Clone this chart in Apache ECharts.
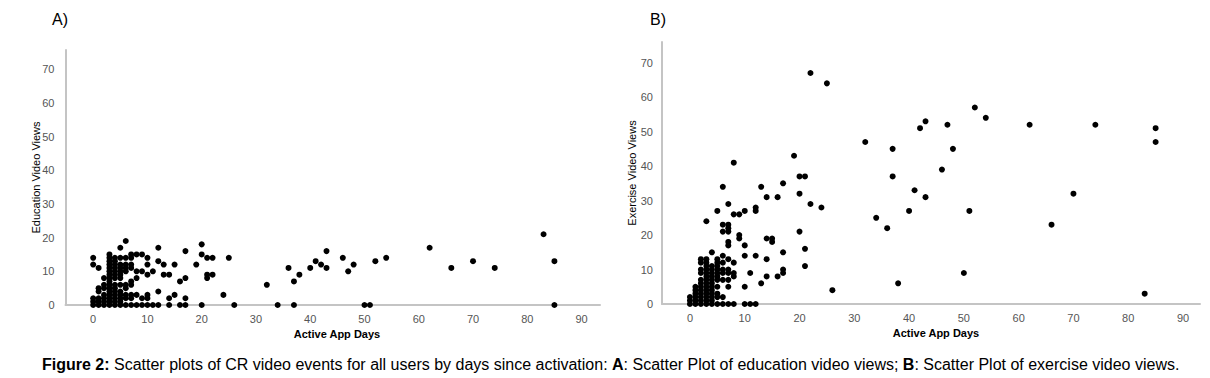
<!DOCTYPE html>
<html>
<head>
<meta charset="utf-8">
<script src="https://cdn.jsdelivr.net/npm/echarts@6/dist/echarts.min.js"></script>
<style>
html,body{margin:0;padding:0;background:#fff;}
#chart{width:1210px;height:378px;}
</style>
</head>
<body>
<div id="chart"></div>
<script>
// ---- data ----
const xTickValues = [0,10,20,30,40,50,60,70,80,90];
const yTickValues = [0,10,20,30,40,50,60,70];

// Panel A: Education video views vs active app days
const educationPoints = [
  [0,0],[0,1],[0,2],[0,12],[0,14],
  [1,0],[1,1],[1,2],[1,4],[1,5],[1,11],
  [2,0],[2,1],[2,2],[2,3],[2,5],[2,6],[2,8],
  [3,0],[3,1],[3,2],[3,3],[3,4],[3,5],[3,6],[3,7],[3,8],[3,9],[3,10],[3,11],[3,12],[3,13],[3,14],[3,15],
  [4,0],[4,1],[4,2],[4,3],[4,4],[4,5],[4,6],[4,8],[4,9],[4,10],[4,11],[4,12],[4,13],[4,14],
  [5,0],[5,1],[5,2],[5,3],[5,4],[5,6],[5,8],[5,9],[5,10],[5,11],[5,12],[5,14],[5,17],
  [6,0],[6,2],[6,3],[6,5],[6,6],[6,10],[6,11],[6,12],[6,14],[6,19],
  [7,0],[7,2],[7,3],[7,6],[7,7],[7,11],[7,12],[7,14],[7,15],
  [8,0],[8,3],[8,8],[8,10],[8,15],
  [9,0],[9,2],[9,10],[9,15],
  [10,0],[10,2],[10,3],[10,9],[10,12],[10,14],
  [11,0],[11,10],
  [12,0],[12,4],[12,13],[12,17],
  [13,9],[13,12],
  [14,0],[14,2],[14,9],
  [15,3],[15,12],
  [16,0],[16,7],
  [17,0],[17,2],[17,8],[17,16],
  [19,12],
  [20,0],[20,15],[20,18],
  [21,8],[21,9],[21,14],
  [22,9],[22,14],
  [24,3],[25,14],[26,0],
  [32,6],[34,0],[36,11],[37,7],[37,0],[38,9],[40,11],[41,13],[42,12],[43,16],[43,11],
  [46,14],[47,10],[48,12],[50,0],[51,0],[52,13],[54,14],[62,17],[66,11],[70,13],[74,11],
  [83,21],[85,13],[85,0]
];

// Panel B: Exercise video views vs active app days
const exercisePoints = [
  [0,0],[0,1],[0,2],
  [1,0],[1,1],[1,2],[1,3],[1,4],[1,5],
  [2,0],[2,1],[2,2],[2,3],[2,4],[2,5],[2,6],[2,7],[2,9],[2,10],[2,12],[2,13],
  [3,0],[3,1],[3,2],[3,3],[3,4],[3,5],[3,6],[3,7],[3,8],[3,9],[3,10],[3,11],[3,12],[3,13],[3,24],
  [4,0],[4,1],[4,2],[4,3],[4,4],[4,5],[4,6],[4,7],[4,8],[4,9],[4,10],[4,11],[4,15],
  [5,0],[5,2],[5,3],[5,5],[5,7],[5,8],[5,9],[5,10],[5,11],[5,12],[5,13],[5,27],
  [6,0],[6,2],[6,7],[6,9],[6,10],[6,12],[6,14],[6,21],[6,23],[6,34],
  [7,0],[7,5],[7,7],[7,9],[7,10],[7,13],[7,17],[7,18],[7,21],[7,22],[7,23],[7,29],
  [8,0],[8,8],[8,9],[8,12],[8,26],[8,41],
  [9,19],[9,20],[9,26],
  [10,0],[10,5],[10,14],[10,17],[10,27],
  [11,0],[11,9],
  [12,0],[12,14],[12,27],[12,28],
  [13,6],[13,34],
  [14,8],[14,13],[14,19],[14,31],
  [15,18],[15,19],
  [16,8],[16,31],
  [17,9],[17,10],[17,15],[17,35],
  [19,43],
  [20,21],[20,32],[20,37],
  [21,11],[21,16],[21,37],
  [22,29],[22,67],[24,28],[25,64],[26,4],
  [32,47],[34,25],[36,22],[37,45],[37,37],[38,6],[40,27],[41,33],[42,51],[43,53],[43,31],
  [46,39],[47,52],[48,45],[50,9],[51,27],[52,57],[54,54],[62,52],[66,23],[70,32],[74,52],
  [83,3],[85,51],[85,47]
];

// ---- chart ----
const FONT = '"Liberation Sans", Arial, sans-serif';
const axisLineStyle = { color: '#c4c4c4', width: 2 };
const labelStyle = { color: '#555', fontSize: 11, fontFamily: FONT };

function xAxisCfg(gridIndex, min, max) {
  return {
    type: 'value', gridIndex, min, max,
    axisLine: { show: true, onZero: false, lineStyle: axisLineStyle },
    axisTick: { show: false },
    splitLine: { show: false },
    axisLabel: Object.assign({ margin: 8, customValues: xTickValues }, labelStyle)
  };
}
function yAxisCfg(gridIndex, max, name, nameGap, margin) {
  return {
    type: 'value', gridIndex, min: 0, max,
    name, nameLocation: 'middle', nameGap, nameMoveOverlap: false,
    nameTextStyle: { color: '#000', fontSize: 11, fontFamily: FONT },
    axisLine: { show: true, onZero: false, lineStyle: axisLineStyle },
    axisTick: { show: false },
    splitLine: { show: false },
    axisLabel: Object.assign({ margin, customValues: yTickValues }, labelStyle)
  };
}

const chart = echarts.init(document.getElementById('chart'), null, { renderer: 'svg' });
chart.setOption({
  backgroundColor: '#fff',
  animation: false,
  grid: [
    { left: 65.5, top: 50, width: 534.5, bottom: 73 },
    { left: 662, top: 42, width: 538, bottom: 74 }
  ],
  xAxis: [ xAxisCfg(0, -5.1, 93.4), xAxisCfg(1, -5.1, 93.1) ],
  yAxis: [ yAxisCfg(0, 75.7, 'Education Video Views', 24, 11), yAxisCfg(1, 76, 'Exercise Video Views', 25, 9) ],
  series: [
    { type: 'scatter', xAxisIndex: 0, yAxisIndex: 0, data: educationPoints,
      symbolSize: 6, itemStyle: { color: '#000', opacity: 1 } },
    { type: 'scatter', xAxisIndex: 1, yAxisIndex: 1, data: exercisePoints,
      symbolSize: 6, itemStyle: { color: '#000', opacity: 1 } }
  ],
  graphic: [
    { type: 'text', left: 52, top: 11, style: { text: 'A)', fontSize: 16, fontFamily: FONT, fill: '#000' } },
    { type: 'text', left: 650, top: 11, style: { text: 'B)', fontSize: 16, fontFamily: FONT, fill: '#000' } },
    { type: 'text', x: 337, y: 334, style: { text: 'Active App Days', fontSize: 11, fontWeight: 'bold', fontFamily: FONT, fill: '#000', align: 'center', verticalAlign: 'middle' } },
    { type: 'text', x: 936, y: 333, style: { text: 'Active App Days', fontSize: 11, fontWeight: 'bold', fontFamily: FONT, fill: '#000', align: 'center', verticalAlign: 'middle' } },
    { type: 'text', x: 42, y: 364, style: {
        text: '{b|Figure 2:} Scatter plots of CR video events for all users by days since activation: {b|A}: Scatter Plot of education video views; {b|B}: Scatter Plot of exercise video views.',
        fontSize: 16, fontFamily: FONT, fill: '#000', verticalAlign: 'middle',
        rich: { b: { fontSize: 16, fontWeight: 'bold', fontFamily: FONT, fill: '#000' } }
      } }
  ]
});
</script>
</body>
</html>
